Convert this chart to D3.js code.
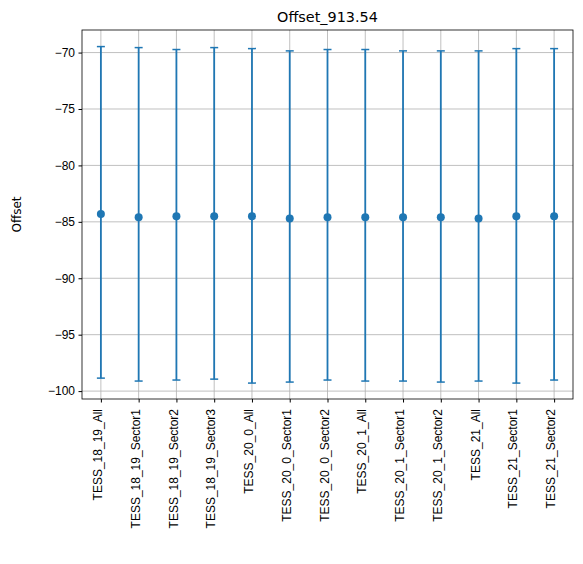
<!DOCTYPE html>
<html><head><meta charset="utf-8">
<script src="https://cdn.jsdelivr.net/npm/d3@7"></script>
<style>body{margin:0;background:#fff}svg{font-family:"DejaVu Sans",sans-serif}</style>
</head><body><svg id="c"></svg>
<script>
const categories = ["TESS_18_19_All","TESS_18_19_Sector1","TESS_18_19_Sector2","TESS_18_19_Sector3","TESS_20_0_All","TESS_20_0_Sector1","TESS_20_0_Sector2","TESS_20_1_All","TESS_20_1_Sector1","TESS_20_1_Sector2","TESS_21_All","TESS_21_Sector1","TESS_21_Sector2"];
const values = [-84.3,-84.6,-84.5,-84.5,-84.5,-84.7,-84.6,-84.6,-84.6,-84.6,-84.7,-84.5,-84.5];
const upper = [-69.47,-69.56,-69.73,-69.56,-69.65,-69.85,-69.73,-69.73,-69.85,-69.85,-69.85,-69.65,-69.65];
const lower = [-98.85,-99.11,-99.02,-98.94,-99.29,-99.2,-99.02,-99.11,-99.11,-99.2,-99.11,-99.29,-99.02];
const yTicks = [-100,-95,-90,-85,-80,-75,-70];

const width = 583, height = 564;
const margin = {top: 30, right: 10, bottom: 165, left: 82};
const svg = d3.select("#c").attr("width", width).attr("height", height);
const iw = width - margin.left - margin.right, ih = height - margin.top - margin.bottom;
const g = svg.append("g").attr("transform", `translate(${margin.left},${margin.top})`);
const color = "#1f77b4";

const x = d3.scalePoint().domain(categories).range([0, iw]).padding(0.5);
const y = d3.scaleLinear().domain([-100.7, -68.0]).range([ih, 0]);

// grid
g.append("g").selectAll("line").data(yTicks).enter().append("line")
  .attr("x1", 0).attr("x2", iw).attr("y1", d => y(d)).attr("y2", d => y(d))
  .attr("stroke", "#b0b0b0").attr("stroke-width", 0.8);
g.append("g").selectAll("line").data(categories).enter().append("line")
  .attr("x1", d => x(d)).attr("x2", d => x(d)).attr("y1", 0).attr("y2", ih)
  .attr("stroke", "#b0b0b0").attr("stroke-width", 0.8);

// error bars
const eb = g.append("g").selectAll("g").data(categories).enter().append("g");
eb.append("line").attr("x1", d => x(d)).attr("x2", d => x(d))
  .attr("y1", (d, i) => y(upper[i])).attr("y2", (d, i) => y(lower[i]))
  .attr("stroke", color).attr("stroke-width", 1.8);
eb.append("line").attr("x1", d => x(d) - 4).attr("x2", d => x(d) + 4)
  .attr("y1", (d, i) => y(upper[i])).attr("y2", (d, i) => y(upper[i]))
  .attr("stroke", color).attr("stroke-width", 1.5);
eb.append("line").attr("x1", d => x(d) - 4).attr("x2", d => x(d) + 4)
  .attr("y1", (d, i) => y(lower[i])).attr("y2", (d, i) => y(lower[i]))
  .attr("stroke", color).attr("stroke-width", 1.5);
eb.append("circle").attr("cx", d => x(d)).attr("cy", (d, i) => y(values[i]))
  .attr("r", 4).attr("fill", color);

// axes
const xa = g.append("g").attr("transform", `translate(0,${ih})`)
  .call(d3.axisBottom(x).tickSize(3.5).tickPadding(3.5));
xa.selectAll("text").attr("transform", "rotate(-90)").attr("text-anchor", "end")
  .attr("dx", "-0.5em").attr("dy", "0.05em").attr("x", -4).attr("y", 0)
  .style("font-size", "12px").attr("fill", "#000");
const ya = g.append("g").call(d3.axisLeft(y).tickValues(yTicks).tickSize(3.5).tickPadding(3.5));
ya.selectAll("text").style("font-size", "12px").attr("fill", "#000");
[xa, ya].forEach(a => { a.select(".domain").remove(); a.selectAll("line").attr("stroke", "#000"); });
g.append("rect").attr("width", iw).attr("height", ih).attr("fill", "none").attr("stroke", "#000").attr("stroke-width", 0.8);

svg.append("text").attr("x", margin.left + iw / 2).attr("y", 22).attr("text-anchor", "middle")
  .style("font-size", "14.4px").text("Offset_913.54");
svg.append("text").attr("transform", `translate(21,${margin.top + ih / 2}) rotate(-90)`)
  .attr("text-anchor", "middle").style("font-size", "12px").text("Offset");
</script></body></html>
